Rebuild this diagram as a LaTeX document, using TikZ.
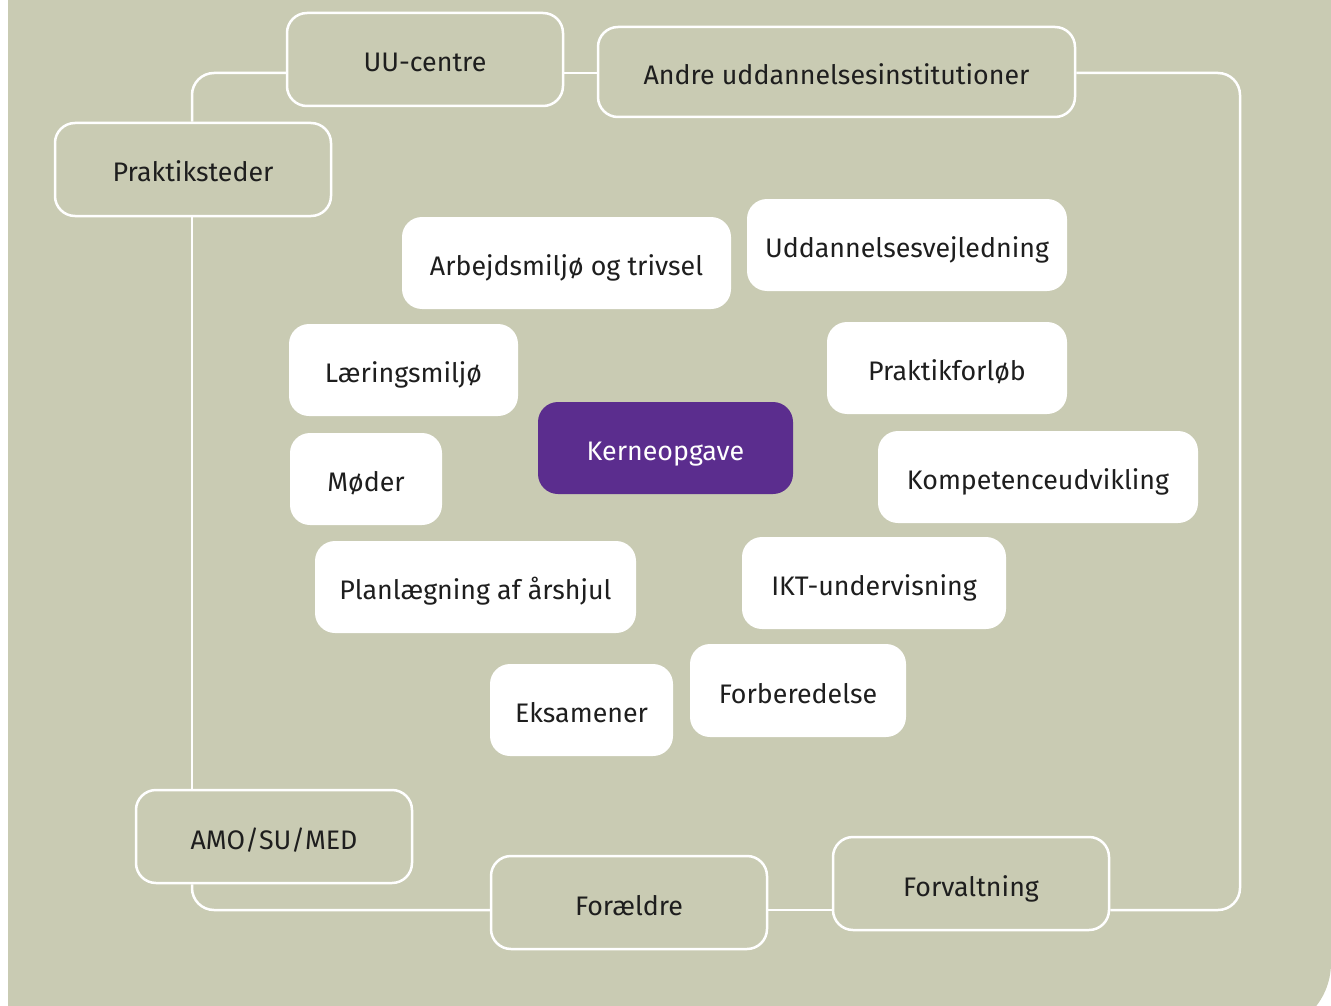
\documentclass[tikz,border=0pt]{standalone}
\usepackage{fontspec}
\setmainfont{Fira Sans}
\usepackage{tikz}
\usetikzlibrary{positioning}
\definecolor{bgcol}{HTML}{C9CBB3}
\definecolor{kernecol}{HTML}{5B2D8E}
\definecolor{txtcol}{HTML}{1E1E1E}

\begin{document}
\begin{tikzpicture}[x=1pt,y=-1pt,
	ringbox/.style={rectangle,rounded corners=20pt,draw=white,line width=2.5pt,fill=bgcol,text=txtcol,minimum height=93pt,minimum width=276pt,inner sep=0pt},
	taskbox/.style={rectangle,rounded corners=20pt,fill=white,text=txtcol,minimum height=92pt,inner sep=0pt},
	loopline/.style={draw=white,line width=2.5pt,rounded corners=22pt}]
	\useasboundingbox (0,0) rectangle (1331,1006);
	\clip (0,0) rectangle (1331,1006);
	\fill[bgcol,rounded corners=70pt] (-100,-100) -- (1331,-100) -- (1331,1033) -- (-100,1033) -- cycle;
	\fill[white] (0,0) rectangle (8,1006);

	% corners of the ring
	\coordinate (nw) at (192,73);
	\coordinate (ne) at (1240,73);
	\coordinate (se) at (1240,910);
	\coordinate (sw) at (192,910);

	\begin{scope}[every node/.style={font=\fontsize{26.8}{30}\selectfont,text height=25pt,text depth=0pt}]
		\node[ringbox] (uu) at (425,59.5) {UU-centre};
		\node[ringbox,minimum width=477pt,minimum height=90pt] (andre) at (836.5,72) {Andre uddannelsesinstitutioner};
		\node[ringbox] (praktik) at (193,169.5) {Praktiksteder};
		\node[ringbox] (amo) at (274,836.5) {AMO/SU/MED};
		\node[ringbox] (foraeldre) at (629,902.5) {Forældre};
		\node[ringbox] (forvaltning) at (971,883.5) {Forvaltning};

		\node[taskbox,minimum width=329pt] (arbejd) at (566.5,263) {Arbejdsmiljø og trivsel};
		\node[taskbox,minimum width=320pt] (uddvej) at (907,245) {Uddannelsesvejledning};
		\node[taskbox,minimum width=229pt] (laering) at (403.5,370) {Læringsmiljø};
		\node[taskbox,minimum width=240pt] (praktikf) at (947,368) {Praktikforløb};
		\node[taskbox,minimum width=255pt,fill=kernecol,text=white] (kerne) at (665.5,448) {Kerneopgave};
		\node[taskbox,minimum width=152pt] (moeder) at (366,479) {Møder};
		\node[taskbox,minimum width=320pt] (kompet) at (1038,477) {Kompetenceudvikling};
		\node[taskbox,minimum width=321pt] (planl) at (475.5,587) {Planlægning af årshjul};
		\node[taskbox,minimum width=264pt] (ikt) at (874,583) {IKT-undervisning};
		\node[taskbox,minimum width=183pt] (eksamen) at (581.5,710) {Eksamener};
		\node[taskbox,minimum width=216pt,minimum height=93pt] (forbered) at (798,690.5) {Forberedelse};
	\end{scope}

	\begin{scope}
	\draw[loopline] (uu.west |- nw) -- (nw) -- (praktik.north -| nw);
	\draw[loopline] (uu.east |- nw) -- (andre.west |- nw);
	\draw[loopline] (andre.east |- ne) -- (ne) -- (se) -- (forvaltning.east |- se);
	\draw[loopline] (forvaltning.west |- se) -- (foraeldre.east |- se);
	\draw[loopline] (foraeldre.west |- sw) -- (sw) -- (amo.south -| sw);
	\draw[loopline] (amo.north -| sw) -- (praktik.south -| sw);
	\end{scope}
\end{tikzpicture}
\end{document}
